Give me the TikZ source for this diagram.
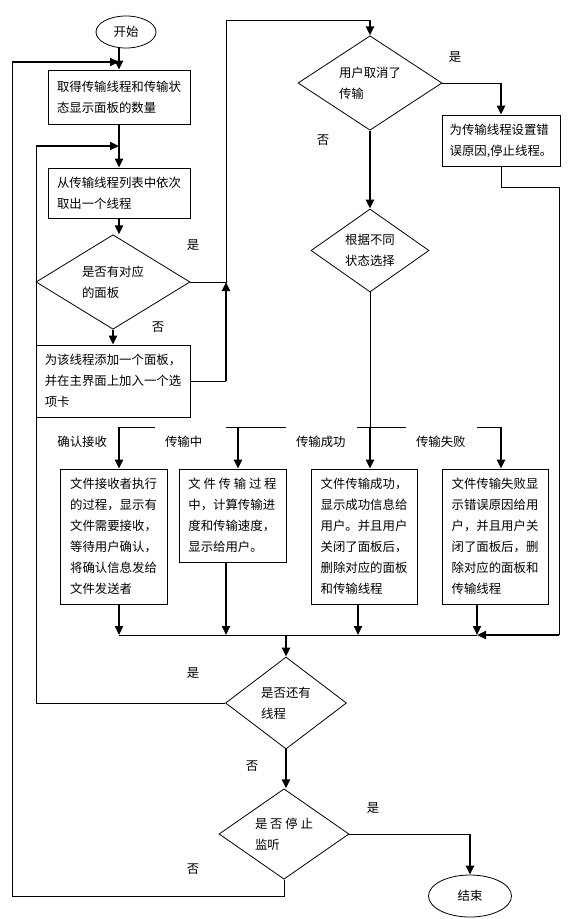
\documentclass[tikz,border=0pt]{standalone}
\usepackage{fontspec}
\setmainfont{Noto Sans CJK SC}
\usetikzlibrary{shapes.geometric,arrows.meta}

\begin{document}
\begin{tikzpicture}[x=1pt,y=-1pt,line width=0.8pt,
  box/.style={draw,rectangle,align=left},
  decide/.style={draw,diamond,align=left},
  term/.style={draw,ellipse},
  note/.style={},
  tag/.style={fill=white,align=left,text width=51,minimum width=71,minimum height=36},
  arr/.style={line width=2.2pt,-{Triangle[length=9pt,width=8pt]}}]
\tikzstyle{every node}+=[inner sep=0pt,font=\fontsize{12.4}{21}\selectfont]
\useasboundingbox (0,0) rectangle (585,919);
% left column
\node[term,minimum width=60,minimum height=32] (start) at (126,32) {开始};
\node[box,minimum width=142,minimum height=54] (get) at (119,97) {取得传输线程和传输状\\态显示面板的数量};
\node[box,minimum width=142,minimum height=50] (pick) at (119,193) {从传输线程列表中依次\\取出一个线程};
\node[decide,minimum width=154,minimum height=82] (has) at (113,282) {是否有对应\\的面板};
\node[box,minimum width=154,minimum height=72] (addp) at (113,381) {为该线程添加一个面板，\\并在主界面上加入一个选\\项卡};
% right column
\node[decide,minimum width=144,minimum height=81] (cancel) at (370,83) {用户取消了\\传输};
\node[box,minimum width=118,minimum height=51] (err) at (501,140.5) {为传输线程设置错\\误原因,停止线程。};
\node[decide,minimum width=118,minimum height=83] (state) at (370,250.5) {根据不同\\状态选择};
% four states
\node[box,minimum width=107,minimum height=135] (recv) at (113.5,536.5) {文件接收者执行\\的过程，显示有\\文件需要接收，\\等待用户确认，\\将确认信息发给\\文件发送者};
\node[box,minimum width=107,minimum height=93] (trans) at (232.5,515.5) {文 件 传 输 过 程\\中，计算传输进\\度和传输速度，\\显示给用户。};
\node[box,minimum width=106,minimum height=135] (succ) at (364,536.5) {文件传输成功，\\显示成功信息给\\用户。并且用户\\关闭了面板后，\\删除对应的面板\\和传输线程};
\node[box,minimum width=106,minimum height=135] (fail) at (495,536.5) {文件传输失败显\\示错误原因给用\\户，并且用户关\\闭了面板后，删\\除对应的面板和\\传输线程};
% bottom
\node[decide,minimum width=121,minimum height=92] (more) at (286,703) {是否还有\\线程};
\node[decide,minimum width=130,minimum height=82] (stop) at (284,834) {是 否 停 止\\监听};
\node[term,minimum width=83,minimum height=42] (finish) at (470,896) {结束};

\coordinate (outerT) at (12,62);
\coordinate (outerB) at (12,896);
\coordinate (innerT) at (36,146);
\coordinate (innerB) at (36,703);
\coordinate (upJ) at (226,282);
\coordinate (topL) at (226,20);
\coordinate (topR) at (370,20);
\coordinate (errR) at (559,187);
\coordinate (errB) at (559,635);
\coordinate (forkA) at (119,427);
\coordinate (forkB) at (238,427);
\coordinate (forkC) at (370,427);
\coordinate (forkD) at (501,427);
\coordinate (joinA) at (119,635);
\coordinate (joinB) at (226,635);
\coordinate (joinC) at (358,635);
\coordinate (joinD) at (477,635);
\coordinate (joinM) at (286,635);

\draw[arr] (get.north |- start.south) -- (get.north);
\draw[arr] (get.south) -- (pick.north);
\draw[arr] (pick.south) -- (pick.south |- has.north);
\draw[arr] (has.south) -- (addp.north);
\draw (has.east) -- (upJ) -- (topL) -- (topR);
\draw[arr] (topR) -- (cancel.north);
\draw (addp.east) -- (addp.east -| upJ);
\draw[arr] (addp.east -| upJ) -- (upJ);
\draw (cancel.east) -- (cancel.east -| err.north);
\draw[arr] (cancel.east -| err.north) -- (err.north);
\draw (err.south) |- (errR) -- (errB);
\draw[arr] (errB) -- (joinD);
\draw[arr] (cancel.south) -- (state.north);
\draw (state.south) -- (forkC);
\draw (forkA) -- (forkD);
\draw[arr] (forkA) -- (forkA |- recv.north);
\draw[arr] (forkB) -- (forkB |- trans.north);
\draw[arr] (forkC) -- (forkC |- succ.north);
\draw[arr] (forkD) -- (forkD |- fail.north);
\draw[arr] (joinA |- recv.south) -- (joinA);
\draw[arr] (joinB |- trans.south) -- (joinB);
\draw[arr] (joinC |- succ.south) -- (joinC);
\draw[arr] (joinD |- fail.south) -- (joinD);
\draw (joinA) -- (joinD);
\draw[arr] (joinM) -- (more.north);
\draw (more.west) -- (innerB) -- (innerT);
\draw[arr] (innerT) -- (innerT -| get.south);
\draw[arr] (more.south) -- (more.south |- stop.north);
\draw (stop.east) -- (stop.east -| finish.north);
\draw[arr] (stop.east -| finish.north) -- (finish.north);
\draw (stop.south) -- (stop.south |- outerB) -- (outerB) -- (outerT);
\draw[arr] (outerT) -- (outerT -| get.north);

\node[note] (yes1) at (193,245) {是};
\node[note] (no1) at (158,327) {否};
\node[note] (yes2) at (455,57) {是};
\node[note] (no2) at (323,140) {否};
\node[note,anchor=west] (lblRecv) at (57,442) {确认接收};
\node[tag] (lblTrans) at (190.5,442) {传输中};
\node[tag] (lblSucc) at (321.5,442) {传输成功};
\node[tag] (lblFail) at (441.5,442) {传输失败};
\node[note] (yes3) at (193,673) {是};
\node[note] (no3) at (252,766) {否};
\node[note] (yes4) at (373,808) {是};
\node[note] (no4) at (193,869) {否};
\end{tikzpicture}
\end{document}
